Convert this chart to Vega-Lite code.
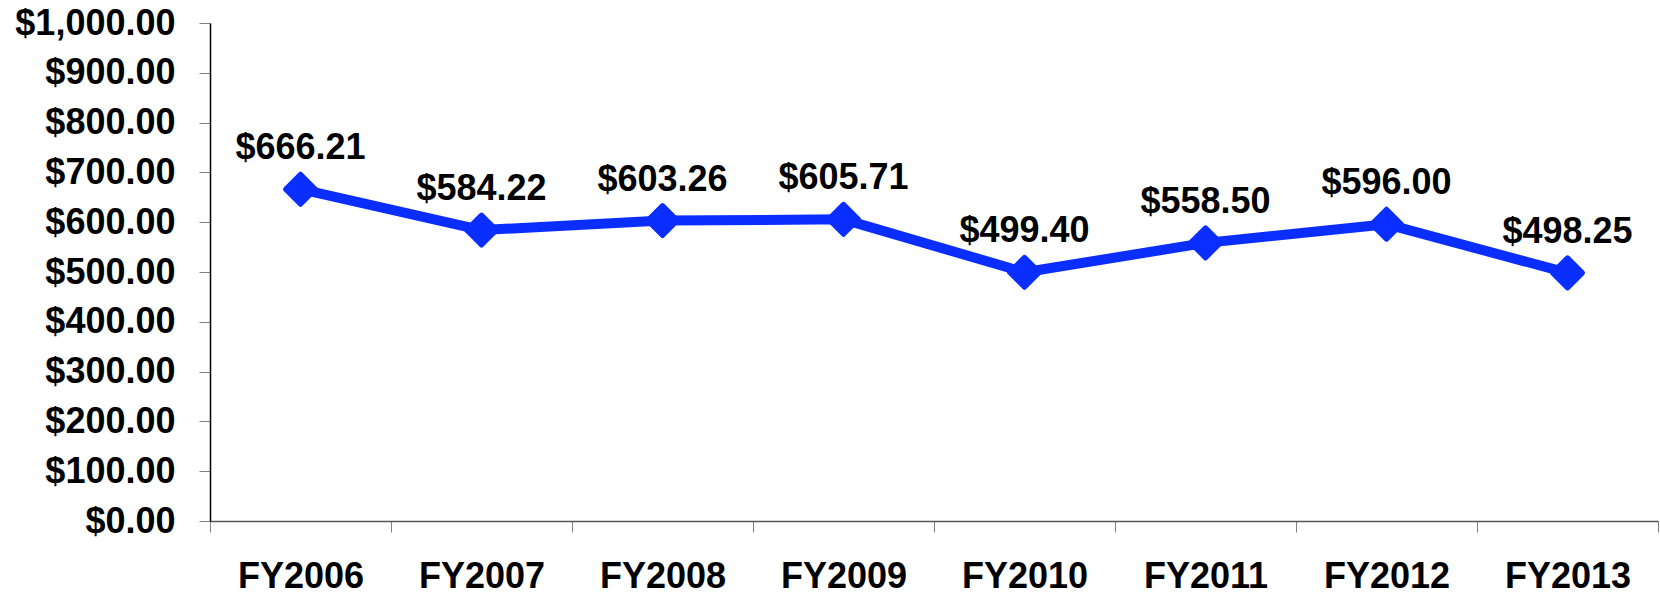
{
  "$schema": "https://vega.github.io/schema/vega-lite/v6.json",
  "autosize": {"type": "none"},
  "width": 1448,
  "height": 498,
  "padding": {"left": 210, "top": 23, "right": 2, "bottom": 73},
  "background": "white",
  "config": {
    "view": {"stroke": null},
    "font": "Liberation Sans"
  },
  "data": {
    "values": [
      {"year": "FY2006", "value": 666.21},
      {"year": "FY2007", "value": 584.22},
      {"year": "FY2008", "value": 603.26},
      {"year": "FY2009", "value": 605.71},
      {"year": "FY2010", "value": 499.40},
      {"year": "FY2011", "value": 558.50},
      {"year": "FY2012", "value": 596.00},
      {"year": "FY2013", "value": 498.25}
    ]
  },
  "encoding": {
    "x": {
      "field": "year",
      "type": "nominal",
      "sort": null,
      "scale": {"type": "band", "paddingInner": 0, "paddingOuter": 0},
      "axis": {
        "title": null,
        "labelAngle": 0,
        "tickBand": "extent",
        "labelFont": "Liberation Sans",
        "labelFontWeight": "bold",
        "labelFontSize": 36,
        "labelColor": "black",
        "labelPadding": 27,
        "tickSize": 11,
        "tickColor": "#808080",
        "domainColor": "#555555",
        "domainWidth": 1.5,
        "grid": false
      }
    },
    "y": {
      "field": "value",
      "type": "quantitative",
      "scale": {"domain": [0, 1000], "nice": false},
      "axis": {
        "title": null,
        "values": [0, 100, 200, 300, 400, 500, 600, 700, 800, 900, 1000],
        "format": "$,.2f",
        "labelFont": "Liberation Sans",
        "labelFontWeight": "bold",
        "labelFontSize": 36,
        "labelColor": "black",
        "labelPadding": 24,
        "tickSize": 11,
        "tickColor": "#808080",
        "domainColor": "black",
        "domainWidth": 1.5,
        "grid": false
      }
    }
  },
  "layer": [
    {
      "mark": {"type": "line", "color": "#0A2EFF", "strokeWidth": 10, "strokeJoin": "round"}
    },
    {
      "mark": {"type": "point", "shape": "diamond", "filled": true, "size": 900, "color": "#0A2EFF", "stroke": "#0A2EFF", "strokeWidth": 5, "strokeJoin": "round", "opacity": 1}
    },
    {
      "mark": {"type": "text", "font": "Liberation Sans", "fontWeight": "bold", "fontSize": 36, "color": "black", "baseline": "alphabetic", "dy": -30},
      "encoding": {"text": {"field": "value", "type": "quantitative", "format": "$,.2f"}}
    }
  ]
}
